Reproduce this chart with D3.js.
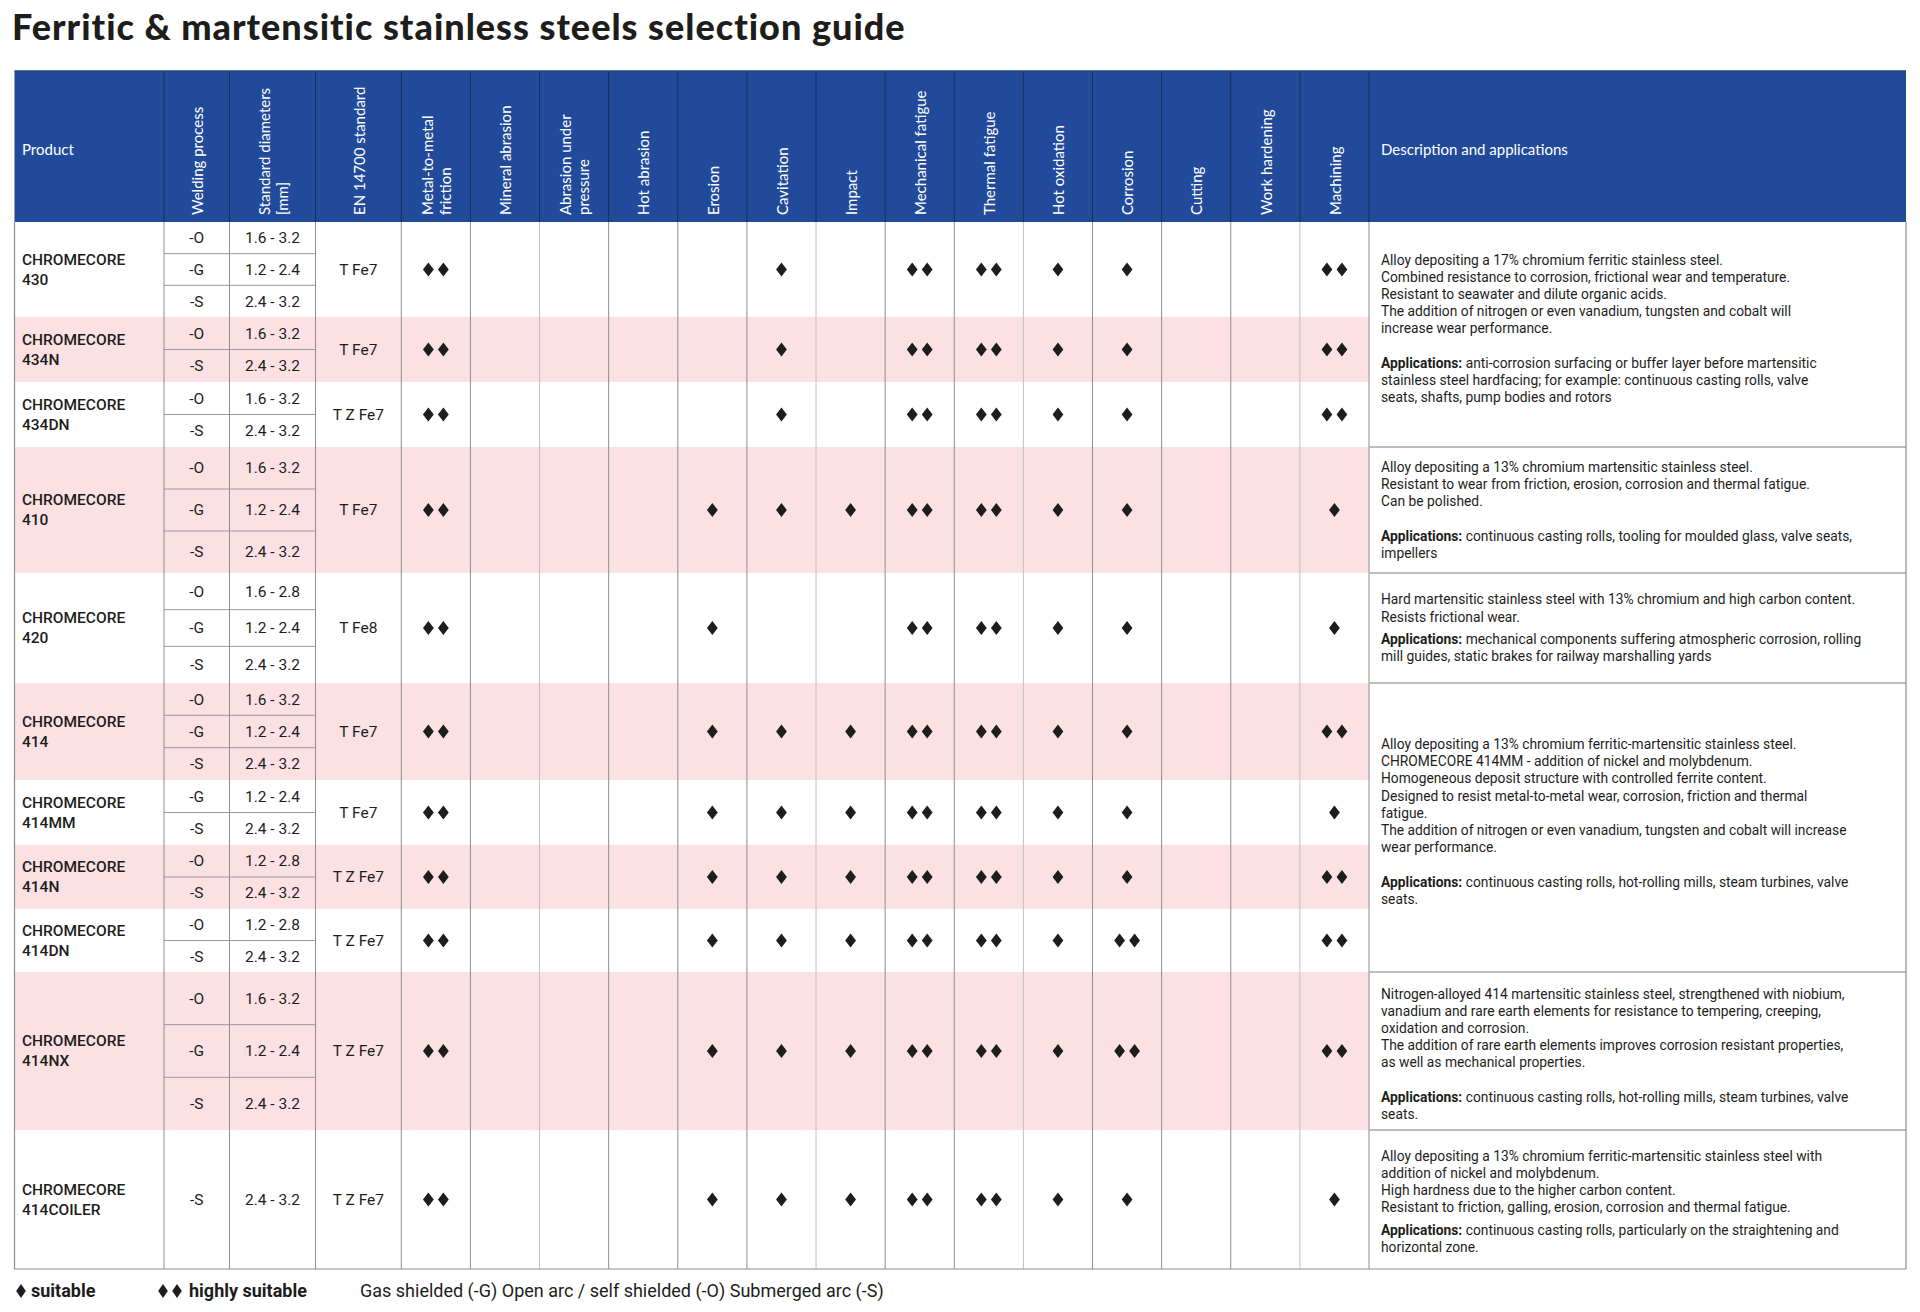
<!DOCTYPE html>
<html lang="en">
<head>
<meta charset="UTF-8">
<title>Ferritic & martensitic stainless steels selection guide</title>
<script src="https://d3js.org/d3.v7.min.js"></script>
<style>
  body { margin: 0; background: #fff; }
  svg { display: block; font-family: Roboto, "Noto Sans", sans-serif; }
  .title { font-family: Lato, sans-serif; font-weight: 900; font-size: 36px; letter-spacing: 1px; fill: #1d1d1b; }
  .head { font-family: Lato, sans-serif; font-size: 15px; fill: #fff; }
  .cell { font-size: 15.5px; fill: #1d1d1b; }
  .prod { font-size: 15.5px; font-weight: 500; fill: #1d1d1b; }
  .desc { font-size: 13.8px; fill: #1d1d1b; }
  .legend { font-size: 18px; fill: #1d1d1b; }
</style>
</head>
<body>
<div id="chart"></div>
<script>
// ---- data ----
const properties = ["Metal-to-metal friction", "Mineral abrasion", "Abrasion under pressure", "Hot abrasion",
  "Erosion", "Cavitation", "Impact", "Mechanical fatigue", "Thermal fatigue", "Hot oxidation",
  "Corrosion", "Cutting", "Work hardening", "Machining"];
const propertyLabels = [["Metal-to-metal", "friction"], ["Mineral abrasion"], ["Abrasion under", "pressure"],
  ["Hot abrasion"], ["Erosion"], ["Cavitation"], ["Impact"], ["Mechanical fatigue"], ["Thermal fatigue"],
  ["Hot oxidation"], ["Corrosion"], ["Cutting"], ["Work hardening"], ["Machining"]];

const products = ["430", "434N", "434DN", "410", "420", "414", "414MM", "414N", "414DN", "414NX", "414COILER"];
const processes = [["-O", "-G", "-S"], ["-O", "-S"], ["-O", "-S"], ["-O", "-G", "-S"], ["-O", "-G", "-S"],
  ["-O", "-G", "-S"], ["-G", "-S"], ["-O", "-S"], ["-O", "-S"], ["-O", "-G", "-S"], ["-S"]];
const diameters = [["1.6 - 3.2", "1.2 - 2.4", "2.4 - 3.2"], ["1.6 - 3.2", "2.4 - 3.2"], ["1.6 - 3.2", "2.4 - 3.2"],
  ["1.6 - 3.2", "1.2 - 2.4", "2.4 - 3.2"], ["1.6 - 2.8", "1.2 - 2.4", "2.4 - 3.2"],
  ["1.6 - 3.2", "1.2 - 2.4", "2.4 - 3.2"], ["1.2 - 2.4", "2.4 - 3.2"], ["1.2 - 2.8", "2.4 - 3.2"],
  ["1.2 - 2.8", "2.4 - 3.2"], ["1.6 - 3.2", "1.2 - 2.4", "2.4 - 3.2"], ["2.4 - 3.2"]];
const standards = ["T Fe7", "T Fe7", "T Z Fe7", "T Fe7", "T Fe8", "T Fe7", "T Fe7", "T Z Fe7", "T Z Fe7", "T Z Fe7", "T Z Fe7"];
// 0 = blank, 1 = suitable, 2 = highly suitable
const ratings = [
  [2, 0, 0, 0, 0, 1, 0, 2, 2, 1, 1, 0, 0, 2],
  [2, 0, 0, 0, 0, 1, 0, 2, 2, 1, 1, 0, 0, 2],
  [2, 0, 0, 0, 0, 1, 0, 2, 2, 1, 1, 0, 0, 2],
  [2, 0, 0, 0, 1, 1, 1, 2, 2, 1, 1, 0, 0, 1],
  [2, 0, 0, 0, 1, 0, 0, 2, 2, 1, 1, 0, 0, 1],
  [2, 0, 0, 0, 1, 1, 1, 2, 2, 1, 1, 0, 0, 2],
  [2, 0, 0, 0, 1, 1, 1, 2, 2, 1, 1, 0, 0, 1],
  [2, 0, 0, 0, 1, 1, 1, 2, 2, 1, 1, 0, 0, 2],
  [2, 0, 0, 0, 1, 1, 1, 2, 2, 1, 2, 0, 0, 2],
  [2, 0, 0, 0, 1, 1, 1, 2, 2, 1, 2, 0, 0, 2],
  [2, 0, 0, 0, 1, 1, 1, 2, 2, 1, 1, 0, 0, 1]
];
// description groups: first and last product index covered
const descSpans = [[0, 2], [3, 3], [4, 4], [5, 8], [9, 9], [10, 10]];
const descLines = [
  ["Alloy depositing a 17% chromium ferritic stainless steel.",
   "Combined resistance to corrosion, frictional wear and temperature.",
   "Resistant to seawater and dilute organic acids.",
   "The addition of nitrogen or even vanadium, tungsten and cobalt will",
   "increase wear performance."],
  ["Alloy depositing a 13% chromium martensitic stainless steel.",
   "Resistant to wear from friction, erosion, corrosion and thermal fatigue.",
   "Can be polished."],
  ["Hard martensitic stainless steel with 13% chromium and high carbon content.",
   "Resists frictional wear."],
  ["Alloy depositing a 13% chromium ferritic-martensitic stainless steel.",
   "CHROMECORE 414MM - addition of nickel and molybdenum.",
   "Homogeneous deposit structure with controlled ferrite content.",
   "Designed to resist metal-to-metal wear, corrosion, friction and thermal",
   "fatigue.",
   "The addition of nitrogen or even vanadium, tungsten and cobalt will increase",
   "wear performance."],
  ["Nitrogen-alloyed 414 martensitic stainless steel, strengthened with niobium,",
   "vanadium and rare earth elements for resistance to tempering, creeping,",
   "oxidation and corrosion.",
   "The addition of rare earth elements improves corrosion resistant properties,",
   "as well as mechanical properties."],
  ["Alloy depositing a 13% chromium ferritic-martensitic stainless steel with",
   "addition of nickel and molybdenum.",
   "High hardness due to the higher carbon content.",
   "Resistant to friction, galling, erosion, corrosion and thermal fatigue."]
];
const appLines = [
  ["anti-corrosion surfacing or buffer layer before martensitic",
   "stainless steel hardfacing; for example: continuous casting rolls, valve",
   "seats, shafts, pump bodies and rotors"],
  ["continuous casting rolls, tooling for moulded glass, valve seats,", "impellers"],
  ["mechanical components suffering atmospheric corrosion, rolling",
   "mill guides, static brakes for railway marshalling yards"],
  ["continuous casting rolls, hot-rolling mills, steam turbines, valve", "seats."],
  ["continuous casting rolls, hot-rolling mills, steam turbines, valve", "seats."],
  ["continuous casting rolls, particularly on the straightening and", "horizontal zone."]
];

// ---- layout ----
const W = 1920, H = 1312;
const left = 14.5, right = 1906;
const headTop = 71, headBottom = 222;
const productHeights = [95, 65, 65, 126, 110, 97, 65, 64, 63, 158, 139];
const descGaps = [1, 1, 0.3, 1, 1, 0.3];
const descShift = [-6, 0, 0, -6, 3, 2];
const lineH = 17.2;
const colProduct = [left, 164], colWeld = [164, 229.5], colDiam = [229.5, 315.5], colStd = [315.5, 401.3];
const descX0 = 1369;

const ink = "#1d1d1b", pink = "#fbe1e3", blue = "#214a9a";

const svg = d3.select("#chart").append("svg").attr("width", W).attr("height", H);

svg.append("text").attr("class", "title").attr("x", 12).attr("y", 40)
  .text("Ferritic & martensitic stainless steels selection guide");

const x = d3.scaleBand().domain(properties).range([colStd[1], descX0]);

// row positions
const yStart = [];
productHeights.reduce((acc, h) => { yStart.push(acc); return acc + h; }, headBottom);
const tableBottom = headBottom + d3.sum(productHeights);
const rows = products.map((p, i) => ({
  name: p, i, y0: yStart[i], h: productHeights[i],
  proc: processes[i], diam: diameters[i], std: standards[i], rating: ratings[i]
}));

// header
svg.append("rect").attr("x", left).attr("y", headTop).attr("width", right - left)
  .attr("height", headBottom - headTop).attr("fill", blue);
const headCols = [
  { x0: colWeld[0], x1: colWeld[1], lines: ["Welding process"] },
  { x0: colDiam[0], x1: colDiam[1], lines: ["Standard diameters", "[mm]"] },
  { x0: colStd[0], x1: colStd[1], lines: ["EN 14700 standard"] }
].concat(properties.map((p, k) => ({ x0: x(p), x1: x(p) + x.bandwidth(), lines: propertyLabels[k] })));

const headG = svg.append("g");
headCols.forEach(c => {
  const cx = (c.x0 + c.x1) / 2;
  const n = c.lines.length;
  c.lines.forEach((ln, j) => {
    const lx = cx + (j - (n - 1) / 2) * 18 + 1;
    headG.append("text").attr("class", "head")
      .attr("transform", `translate(${lx},${headBottom - 7}) rotate(-90)`)
      .attr("dy", "0.35em").text(ln);
  });
});
headG.append("text").attr("class", "head").attr("x", 22).attr("y", 150).attr("dy", "0.35em").text("Product");
headG.append("text").attr("class", "head").attr("x", 1381).attr("y", 150).attr("dy", "0.35em")
  .text("Description and applications");
// header dividers
const headDiv = [colProduct[1], colWeld[1], colDiam[1], colStd[1]].concat(properties.map(p => x(p) + x.bandwidth()));
headG.selectAll("line.hd").data(headDiv).enter().append("line")
  .attr("x1", d => d).attr("x2", d => d).attr("y1", headTop).attr("y2", headBottom)
  .attr("stroke", "#1b2f5e").attr("stroke-width", 1);
headG.append("line").attr("x1", left).attr("x2", right).attr("y1", headTop).attr("y2", headTop)
  .attr("stroke", "#2a3f70").attr("stroke-width", 1.5);

// pink bands
svg.selectAll("rect.band").data(rows.filter(r => r.i % 2 === 1)).enter().append("rect")
  .attr("x", left).attr("y", d => d.y0).attr("width", descX0 - left).attr("height", d => d.h)
  .attr("fill", pink);

// sub-row lines in welding / diameter columns
const gridG = svg.append("g");
rows.forEach(r => {
  const n = r.proc.length;
  for (let k = 1; k < n; k++) {
    const yy = r.y0 + r.h * k / n;
    gridG.append("line").attr("x1", colWeld[0]).attr("x2", colDiam[1]).attr("y1", yy).attr("y2", yy)
      .attr("stroke", "#9a9a9a").attr("stroke-width", 1);
  }
});

// vertical lines in body
const bodyDiv = [colProduct[1], colWeld[1], colDiam[1], colStd[1]].concat(properties.map(p => x(p) + x.bandwidth()));
gridG.selectAll("line.v").data(bodyDiv).enter().append("line")
  .attr("x1", d => d).attr("x2", d => d).attr("y1", headBottom).attr("y2", tableBottom)
  .attr("stroke", (d, k) => [5, 9, 12, 16].includes(k) ? "#c2c2c2" : "#8e8e8e").attr("stroke-width", 1);

// description group lines
descSpans.slice(1).forEach(s => {
  const yy = yStart[s[0]];
  gridG.append("line").attr("x1", descX0).attr("x2", right).attr("y1", yy).attr("y2", yy)
    .attr("stroke", "#a8a8a8").attr("stroke-width", 1.5);
});

// outer border
gridG.append("path")
  .attr("d", `M${left},${headBottom}V${tableBottom}H${right}V${headBottom}`)
  .attr("fill", "none").attr("stroke", "#8e8e8e").attr("stroke-width", 1.2);

// cell text
const diamond = "M0,-7L5.4,0L0,7L-5.4,0Z";
const rowG = svg.selectAll("g.row").data(rows).enter().append("g").attr("class", "row");
rowG.each(function(r) {
  const g = d3.select(this);
  const cy = r.y0 + r.h / 2;
  g.append("text").attr("class", "prod").attr("x", 22).attr("y", cy - 10).attr("dy", "0.35em").text("CHROMECORE");
  g.append("text").attr("class", "prod").attr("x", 22).attr("y", cy + 10).attr("dy", "0.35em").text(r.name);
  const n = r.proc.length;
  r.proc.forEach((p, k) => {
    const yy = r.y0 + r.h * (k + 0.5) / n;
    g.append("text").attr("class", "cell").attr("x", (colWeld[0] + colWeld[1]) / 2).attr("y", yy)
      .attr("dy", "0.35em").attr("text-anchor", "middle").text(p);
    g.append("text").attr("class", "cell").attr("x", (colDiam[0] + colDiam[1]) / 2).attr("y", yy)
      .attr("dy", "0.35em").attr("text-anchor", "middle").text(r.diam[k]);
  });
  g.append("text").attr("class", "cell").attr("x", (colStd[0] + colStd[1]) / 2).attr("y", cy)
    .attr("dy", "0.35em").attr("text-anchor", "middle").text(r.std);

  // diamonds
  properties.forEach((p, k) => {
    const v = r.rating[k];
    const cx = x(p) + x.bandwidth() / 2;
    const offs = v === 2 ? [-7.5, 7.5] : v === 1 ? [0] : [];
    offs.forEach(o => g.append("path").attr("d", diamond)
      .attr("transform", `translate(${cx + o},${cy})`).attr("fill", ink));
  });
});

// descriptions
descSpans.forEach((s, k) => {
  const y0 = yStart[s[0]];
  const y1 = yStart[s[1]] + productHeights[s[1]];
  const nLines = descLines[k].length + appLines[k].length + descGaps[k];
  const blockH = nLines * lineH;
  let yy = (y0 + y1) / 2 - blockH / 2 + lineH / 2 + descShift[k];
  const g = svg.append("g");
  descLines[k].forEach(t => {
    g.append("text").attr("class", "desc").attr("x", 1381).attr("y", yy).attr("dy", "0.35em").text(t);
    yy += lineH;
  });
  yy += descGaps[k] * lineH;
  appLines[k].forEach((t, j) => {
    const tx = g.append("text").attr("class", "desc").attr("x", 1381).attr("y", yy).attr("dy", "0.35em");
    if (j === 0) {
      tx.append("tspan").attr("font-weight", 700).text("Applications: ");
      tx.append("tspan").text(t);
    } else tx.text(t);
    yy += lineH;
  });
});

// legend
const leg = svg.append("g").attr("class", "legend");
const legY = 1291;
const legDiamond = "M0,-7L4.8,0L0,7L-4.8,0Z";
leg.append("path").attr("d", legDiamond).attr("transform", `translate(21,${legY})`).attr("fill", ink);
leg.append("text").attr("class", "legend").attr("x", 31).attr("y", legY).attr("dy", "0.35em")
  .attr("font-weight", 700).text("suitable");
[163, 177].forEach(cx => leg.append("path").attr("d", legDiamond)
  .attr("transform", `translate(${cx},${legY})`).attr("fill", ink));
leg.append("text").attr("class", "legend").attr("x", 189).attr("y", legY).attr("dy", "0.35em")
  .attr("font-weight", 700).text("highly suitable");
leg.append("text").attr("class", "legend").attr("x", 360).attr("y", legY).attr("dy", "0.35em")
  .text("Gas shielded (-G) Open arc / self shielded (-O) Submerged arc (-S)");
</script>
</body>
</html>
